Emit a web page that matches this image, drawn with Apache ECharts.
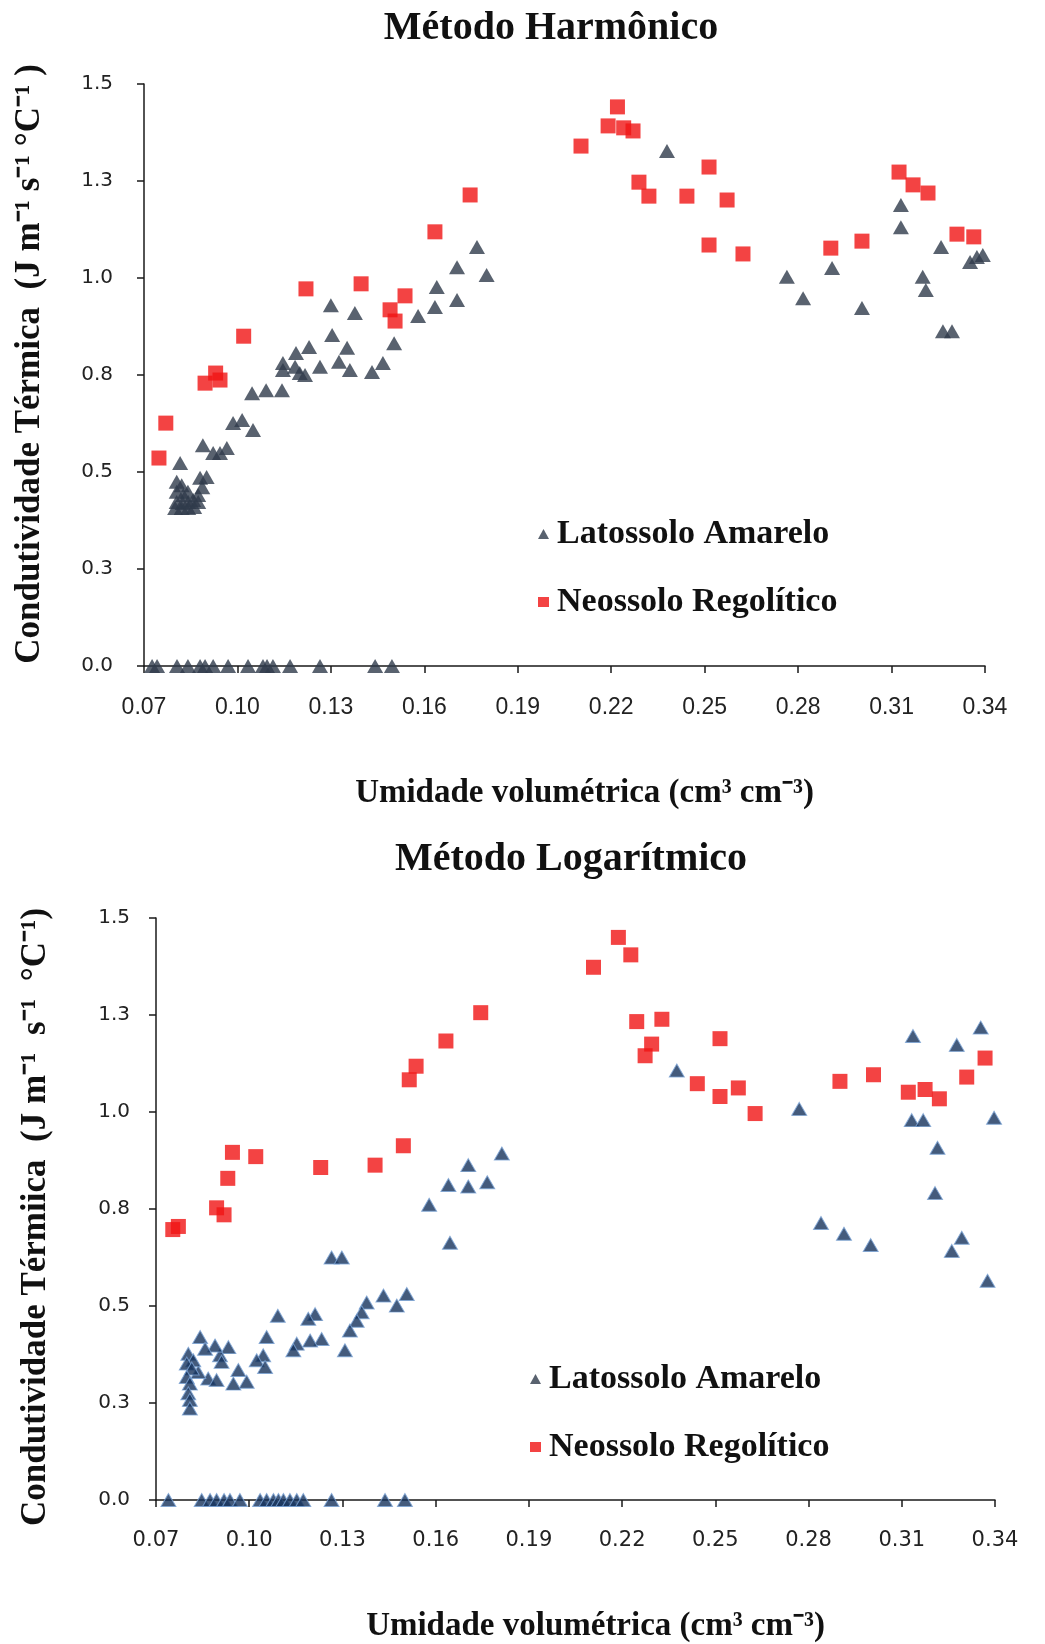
<!DOCTYPE html>
<html>
<head>
<meta charset="utf-8">
<title>Condutividade térmica</title>
<script src="https://cdn.jsdelivr.net/npm/echarts@6/dist/echarts.min.js"></script>
<style>
  html, body { margin: 0; padding: 0; background: #fff; }
  #chart { width: 1045px; height: 1644px; }
</style>
</head>
<body>
<div id="chart"></div>
<script>
// 1. Data (x = umidade volumétrica, y = condutividade)
const xTicks = [0.07, 0.10, 0.13, 0.16, 0.19, 0.22, 0.25, 0.28, 0.31, 0.34];
const yTicks = [0, 0.25, 0.5, 0.75, 1.0, 1.25, 1.5];
const yTickLabels = ['0.0', '0.3', '0.5', '0.8', '1.0', '1.3', '1.5'];
const seriesNames = ['Latossolo Amarelo', 'Neossolo Regolítico'];

// Método Harmônico
const harmLatossolo = [
    [0.0816, 0.523],
    [0.0805, 0.475], [0.0821, 0.466], [0.0805, 0.449], [0.0826, 0.441], [0.0841, 0.449],
    [0.0805, 0.423], [0.0824, 0.420], [0.0842, 0.423], [0.0858, 0.428], [0.0800, 0.407],
    [0.0821, 0.407], [0.0842, 0.407], [0.0861, 0.410], [0.0874, 0.441], [0.0887, 0.461],
    [0.0880, 0.485], [0.0901, 0.487], [0.0874, 0.423],
    [0.0889, 0.569], [0.0922, 0.549], [0.0944, 0.549], [0.0966, 0.562],
    [0.0986, 0.626], [0.1015, 0.634], [0.1050, 0.608],
    [0.1047, 0.703], [0.1092, 0.711], [0.1143, 0.711],
    [0.1146, 0.781], [0.1146, 0.763], [0.1188, 0.807], [0.1185, 0.771], [0.1200, 0.755],
    [0.1217, 0.750], [0.1230, 0.822], [0.1265, 0.771],
    [0.1300, 0.930], [0.1304, 0.853], [0.1326, 0.784], [0.1352, 0.820], [0.1361, 0.763],
    [0.1377, 0.910], [0.1432, 0.758], [0.1467, 0.781], [0.1503, 0.832], [0.1580, 0.902],
    [0.1634, 0.925], [0.1640, 0.977], [0.1705, 0.943], [0.1705, 1.028], [0.1769, 1.080],
    [0.1800, 1.008],
    [0.2379, 1.327], [0.2764, 1.003], [0.2816, 0.948], [0.2909, 1.026], [0.3005, 0.923],
    [0.3130, 1.188], [0.3130, 1.131], [0.3200, 1.003], [0.3210, 0.969], [0.3259, 1.080],
    [0.3265, 0.863], [0.3294, 0.863], [0.3352, 1.041], [0.3374, 1.054], [0.3393, 1.059]
];
const harmLatossoloZeroX = [0.0726, 0.0742, 0.0806, 0.0841, 0.0880, 0.0896, 0.0922, 0.0970,
    0.1034, 0.1082, 0.1095, 0.1114, 0.1169, 0.1265, 0.1442, 0.1496];
const harmNeossolo = [
    [0.0748, 0.536], [0.0770, 0.626], [0.0896, 0.729], [0.0930, 0.755], [0.0944, 0.737],
    [0.1020, 0.850], [0.1220, 0.972], [0.1397, 0.985], [0.1490, 0.918], [0.1506, 0.889],
    [0.1538, 0.954], [0.1634, 1.119], [0.1747, 1.214],
    [0.2103, 1.340], [0.2190, 1.392], [0.2220, 1.441], [0.2240, 1.387], [0.2270, 1.379],
    [0.2289, 1.247], [0.2321, 1.211], [0.2443, 1.211], [0.2514, 1.286], [0.2572, 1.201],
    [0.2514, 1.085], [0.2623, 1.062], [0.2905, 1.077], [0.3005, 1.095], [0.3124, 1.273],
    [0.3169, 1.240], [0.3217, 1.219], [0.3310, 1.113], [0.3364, 1.106]
];

// Método Logarítmico
const logLatossolo = [
    [0.1813, 0.893], [0.1705, 0.863], [0.1641, 0.812], [0.1705, 0.808], [0.1766, 0.819],
    [0.1579, 0.761], [0.1646, 0.663], [0.1265, 0.625], [0.1298, 0.625],
    [0.1432, 0.527], [0.1475, 0.501], [0.1507, 0.531], [0.1378, 0.509], [0.1362, 0.484],
    [0.1346, 0.462], [0.1324, 0.437], [0.1308, 0.386],
    [0.1212, 0.479], [0.1190, 0.467], [0.1233, 0.415], [0.1196, 0.411], [0.1153, 0.403],
    [0.1142, 0.386], [0.1092, 0.475], [0.1056, 0.420], [0.1045, 0.373], [0.1024, 0.360],
    [0.1051, 0.343], [0.0965, 0.335], [0.0992, 0.305], [0.0949, 0.300], [0.0933, 0.394],
    [0.0906, 0.373], [0.0911, 0.356], [0.0890, 0.398], [0.0868, 0.313], [0.0895, 0.309],
    [0.0842, 0.420], [0.0858, 0.390], [0.0836, 0.330],
    [0.0804, 0.377], [0.0820, 0.360], [0.0799, 0.352], [0.0815, 0.339], [0.0799, 0.317],
    [0.0809, 0.300], [0.0804, 0.275], [0.0809, 0.258], [0.0809, 0.236],
    [0.2376, 1.107], [0.2770, 1.008], [0.3136, 1.196], [0.3277, 1.173], [0.3354, 1.218],
    [0.3132, 0.979], [0.3169, 0.979], [0.3397, 0.985], [0.3215, 0.908], [0.3207, 0.791],
    [0.2840, 0.714], [0.2914, 0.686], [0.3000, 0.657], [0.3293, 0.676], [0.3261, 0.642],
    [0.3376, 0.565]
];
const logLatossoloZeroX = [0.0740, 0.0847, 0.0874, 0.0895, 0.0919, 0.0938, 0.0970, 0.1035,
    0.1056, 0.1078, 0.1094, 0.1110, 0.1131, 0.1153, 0.1174, 0.1265, 0.1437, 0.1501];
const logNeossolo = [
    [0.0754, 0.697], [0.0772, 0.705], [0.0895, 0.753], [0.0919, 0.735], [0.0931, 0.829],
    [0.0946, 0.896], [0.1021, 0.885], [0.1230, 0.857], [0.1405, 0.863], [0.1496, 0.913],
    [0.1515, 1.083], [0.1537, 1.118], [0.1633, 1.183], [0.1745, 1.256],
    [0.2108, 1.373], [0.2188, 1.450], [0.2228, 1.405], [0.2247, 1.233], [0.2328, 1.239],
    [0.2295, 1.175], [0.2274, 1.145], [0.2515, 1.189], [0.2442, 1.073], [0.2515, 1.040],
    [0.2574, 1.062], [0.2628, 0.996], [0.2901, 1.079], [0.3009, 1.096], [0.3121, 1.051],
    [0.3175, 1.058], [0.3221, 1.034], [0.3309, 1.090], [0.3368, 1.139]
];

// 2. Shared styles
const serif = 'Liberation Serif, Times New Roman, serif';
const tickFont = 'DejaVu Sans, Verdana, sans-serif';
const axisLineStyle = { color: '#1a1a1a', width: 1.5 };

function makeXAxis(grid, nameGap, labelFont, labelSize) {
    return {
        type: 'value', gridIndex: grid, min: 0.07, max: 0.34,
        axisLine: { show: true, lineStyle: axisLineStyle },
        axisTick: { show: true, length: 7, customValues: xTicks, lineStyle: axisLineStyle },
        axisLabel: {
            customValues: xTicks, margin: 30, color: '#222',
            fontFamily: labelFont, fontSize: labelSize,
            formatter: v => v.toFixed(2)
        },
        splitLine: { show: false },
        name: 'Umidade volumétrica (cm³ cm⁻³)',
        nameLocation: 'middle', nameGap: nameGap,
        nameTextStyle: {
            fontFamily: serif, fontWeight: 'bold', fontSize: 33, color: '#111',
            padding: [0, 0, 0, 40]
        }
    };
}

function makeYAxis(grid, name, nameGap, pad, labelMargin) {
    return {
        type: 'value', gridIndex: grid, min: 0, max: 1.5, interval: 0.25,
        axisLine: { show: true, lineStyle: axisLineStyle },
        axisTick: { show: true, length: 7, lineStyle: axisLineStyle },
        axisLabel: {
            margin: labelMargin, color: '#222', fontFamily: tickFont, fontSize: 20,
            formatter: v => yTickLabels[yTicks.findIndex(t => Math.abs(t - v) < 1e-6)]
        },
        splitLine: { show: false },
        name: name, nameLocation: 'middle', nameGap: nameGap,
        nameTextStyle: {
            fontFamily: serif, fontWeight: 'bold', fontSize: 35, color: '#111',
            padding: pad
        }
    };
}

const withZeros = (pts, zeroX) => pts.concat(zeroX.map(x => [x, 0]));

const legendText = {
    fontFamily: serif, fontWeight: 'bold', fontSize: 34, lineHeight: 34, color: '#111',
    padding: [0, 0, 0, 3]
};

// 3. Build chart
const chart = echarts.init(document.getElementById('chart'), null, { renderer: 'canvas' });

const option = {
    animation: false,
    backgroundColor: '#fff',
    title: [
        { text: 'Método Harmônico', left: 546, top: 4, textAlign: 'center',
          textStyle: { fontFamily: serif, fontWeight: 'bold', fontSize: 40, color: '#111' } },
        { text: 'Método Logarítmico', left: 566, top: 835, textAlign: 'center',
          textStyle: { fontFamily: serif, fontWeight: 'bold', fontSize: 40, color: '#111' } }
    ],
    legend: [
        { data: seriesNames, orient: 'vertical', left: 533, top: 512, itemGap: 34,
          itemWidth: 11, itemHeight: 10, textStyle: legendText },
        { data: seriesNames, orient: 'vertical', left: 525, top: 1357, itemGap: 34,
          itemWidth: 11, itemHeight: 10, textStyle: legendText }
    ],
    grid: [
        { left: 144, top: 84, width: 841, height: 582 },
        { left: 156, top: 918, width: 839, height: 586 }
    ],
    xAxis: [
        makeXAxis(0, 111, 'Liberation Sans, Arial, sans-serif', 23),
        makeXAxis(1, 110, tickFont, 21)
    ],
    yAxis: [
        makeYAxis(0, 'Condutividade Térmica  (J m⁻¹ s⁻¹ °C⁻¹ )', 97, [0, 0, 0, 22], 31),
        makeYAxis(1, 'Condutividade Térmiica  (J m⁻¹  s⁻¹  °C⁻¹)', 103, [0, 16, 0, 0], 26)
    ],
    series: [
        { name: seriesNames[0], type: 'scatter', xAxisIndex: 0, yAxisIndex: 0, clip: false,
          symbol: 'triangle', symbolSize: [16, 14],
          itemStyle: { color: '#2f3b4b' },
          data: withZeros(harmLatossolo, harmLatossoloZeroX) },
        { name: seriesNames[1], type: 'scatter', xAxisIndex: 0, yAxisIndex: 0, clip: false,
          symbol: 'rect', symbolSize: 15,
          itemStyle: { color: '#f01414' },
          data: harmNeossolo },
        { name: seriesNames[0], type: 'scatter', xAxisIndex: 1, yAxisIndex: 1, clip: false,
          symbol: 'triangle', symbolSize: [15, 13],
          itemStyle: { color: '#15325b', borderColor: '#7aa2d4', borderWidth: 1 },
          data: withZeros(logLatossolo, logLatossoloZeroX) },
        { name: seriesNames[1], type: 'scatter', xAxisIndex: 1, yAxisIndex: 1, clip: false,
          symbol: 'rect', symbolSize: 15,
          itemStyle: { color: '#f01414' },
          data: logNeossolo }
    ]
};

chart.setOption(option);

window.addEventListener('resize', () => {
    chart.resize();
});
</script>
</body>
</html>
